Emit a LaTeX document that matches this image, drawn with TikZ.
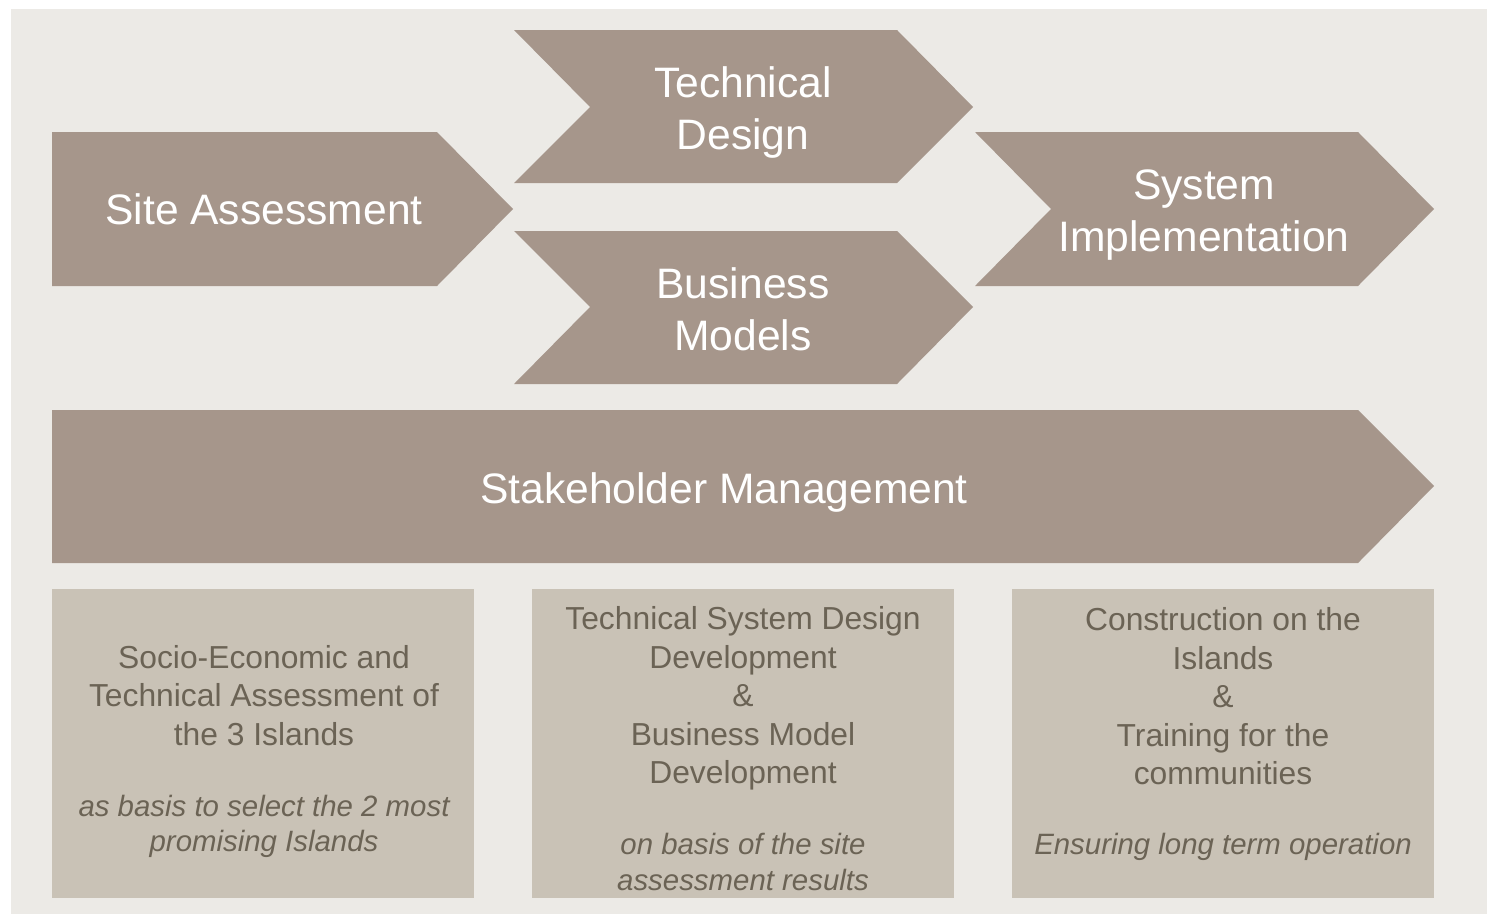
\documentclass[tikz,border=0pt]{standalone}
\usepackage{fontspec}
\setmainfont{Liberation Sans}
\usepackage{tikz}
\definecolor{panelgray}{HTML}{ECEAE6}
\definecolor{arrowbrown}{HTML}{A6968B}
\definecolor{boxbeige}{HTML}{C9C2B6}
\definecolor{boxtextcol}{HTML}{6B6355}

\begin{document}
\begin{tikzpicture}[x=0.5pt,y=-0.5pt,
        chev/.style={fill=arrowbrown},
        infobox/.style={fill=boxbeige},
        chevtext/.style={text=white,align=center,inner sep=0pt,font=\fontsize{21.3}{26}\selectfont},
        infotext/.style={text=boxtextcol,align=center,inner sep=0pt,font=\fontsize{15.9}{19.25}\selectfont},
        infonote/.style={text=boxtextcol,align=center,inner sep=0pt,font=\fontsize{14.7}{17.8}\selectfont\itshape}]
        \useasboundingbox (0,0) rectangle (1487,916);
        \fill[panelgray] (11,9) rectangle (1487,914);

        % phase arrows
        \fill[chev] (52,132) -- (437,132) -- (513,209) -- (437,286) -- (52,286) -- cycle;
        \fill[chev] (514,30) -- (897,30) -- (973,107) -- (897,183) -- (514,183) -- (590,107) -- cycle;
        \fill[chev] (514,231) -- (897,231) -- (973,307) -- (897,384) -- (514,384) -- (590,307) -- cycle;
        \fill[chev] (975,132) -- (1358,132) -- (1434,209) -- (1358,286) -- (975,286) -- (1051,209) -- cycle;
        \fill[chev] (52,410) -- (1358,410) -- (1434,486) -- (1358,563) -- (52,563) -- cycle;

        \node[chevtext] (site) at (264,209) {Site Assessment};
        \node[chevtext] (techdesign) at (743,112) {Technical\\Design};
        \node[chevtext] (busmodels) at (743,309) {Business\\Models};
        \node[chevtext] (sysimpl) at (1204,215) {System\\Implementation};
        \node[chevtext] (stakeholder) at (724,492) {Stakeholder Management};

        % description boxes
        \fill[infobox] (52,589) rectangle (474,898);
        \fill[infobox] (532,589) rectangle (954,898);
        \fill[infobox] (1012,589) rectangle (1434,898);

        \node[infotext] (sitedesc) at (264,695.5) {Socio-Economic and\\Technical Assessment of\\the 3 Islands};
        \node[infonote] (sitenote) at (264,826.5) {as basis to select the 2 most\\promising Islands};
        \node[infotext] (designdesc) at (743,698.5) {Technical System Design\\Development\\\&\\Business Model\\Development};
        \node[infonote] (designnote) at (743,862) {on basis of the site\\assessment results};
        \node[infotext] (impldesc) at (1223,696.5) {Construction on the\\Islands\\\&\\Training for the\\communities};
        \node[infonote] (implnote) at (1223,847) {Ensuring long term operation};
    \end{tikzpicture}
\end{document}
